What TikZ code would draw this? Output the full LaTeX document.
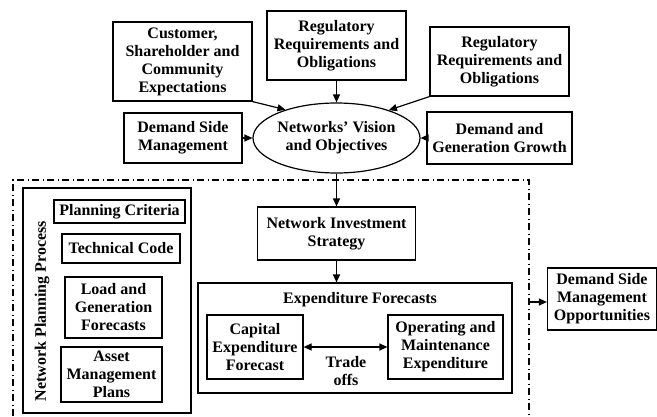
\documentclass[tikz,border=0pt]{standalone}
\usepackage{fontspec}
\setmainfont{Liberation Serif}
\usetikzlibrary{arrows.meta,shapes.geometric}
\begin{document}
\begin{tikzpicture}[x=1pt,y=-1pt,
  every node/.style={font=\fontsize{16}{18}\selectfont\bfseries, align=center, inner sep=0pt},
  box/.style={draw, line width=1.2pt, rectangle},
  arr/.style={line width=1.2pt, -{Triangle[length=8pt,width=7pt]}},
  darr/.style={line width=1.2pt, {Triangle[length=8pt,width=7pt]}-{Triangle[length=8pt,width=7pt]}},
  dashdot/.style={line width=1.2pt, dash pattern=on 7pt off 3.5pt on 1pt off 3.5pt}]
\useasboundingbox (0,0) rectangle (657,416);
% top nodes
\node[box, minimum width=139pt, minimum height=79pt] (cust) at (182.5,61.5) {Customer,\\Shareholder and\\Community\\Expectations};
\node[box, minimum width=139pt, minimum height=69pt] (reg1) at (336.5,45.5) {Regulatory\\Requirements and\\Obligations};
\node[box, minimum width=139pt, minimum height=69pt] (reg2) at (499.5,61.5) {Regulatory\\Requirements and\\Obligations};
\node[box, minimum width=118pt, minimum height=50pt] (dsm) at (183,138) {Demand Side\\Management};
\node[draw, line width=1.2pt, ellipse, minimum width=145pt, minimum height=70pt] (ell) at (336.5,138) {Networks' Vision\\and Objectives};
\node[box, minimum width=145pt, minimum height=52pt] (dgg) at (499.5,138) {Demand and\\Generation Growth};
% dash-dot region
\draw[dashdot] (13,416) -- (13,180) -- (529,180) -- (529,416);
\coordinate (db) at (529,302);
% planning process
\node[box, minimum width=168pt, minimum height=225pt] (npp) at (107,300.5) {};
\node[rotate=90] (npplab) at (42,311) {Network Planning Process};
\node[box, minimum width=131pt, minimum height=23pt] (pc) at (119.5,211.5) {Planning Criteria};
\node[box, minimum width=118pt, minimum height=29pt] (tc) at (121,248.5) {Technical Code};
\node[box, minimum width=97pt, minimum height=61pt] (lgf) at (113.5,307.5) {Load and\\Generation\\Forecasts};
\node[box, minimum width=101pt, minimum height=55pt] (amp) at (111.5,374.5) {Asset\\Management\\Plans};
% investment
\node[box, minimum width=158pt, minimum height=53pt] (nis) at (336.5,233.5) {Network Investment\\Strategy};
\node[box, minimum width=314pt, minimum height=110pt] (ef) at (355,338) {};
\node (eflab) at (360,300) {Expenditure Forecasts};
\node[box, minimum width=96pt, minimum height=64pt] (cef) at (255,347) {Capital\\Expenditure\\Forecast};
\node[box, minimum width=115pt, minimum height=64pt] (ome) at (445.5,347) {Operating and\\Maintenance\\Expenditure};
\node (to) at (346,371) {Trade\\offs};
\node[box, minimum width=109pt, minimum height=62pt] (dsmo) at (602,299) {Demand Side\\Management\\Opportunities};
% arrows
\draw[arr] (cust.south east) -- (ell.151);
\draw[arr] (reg1) -- (ell);
\draw[arr] (reg2.south west) -- (ell.28);
\draw[arr] (dsm) -- (ell);
\draw[arr] (dgg) -- (ell);
\draw[arr] (ell) -- (nis);
\draw[arr] (nis) -- (nis |- ef.north);
\draw[darr] (cef) -- (ome);
\draw[arr] (db) -- (db -| dsmo.west);
\end{tikzpicture}
\end{document}
